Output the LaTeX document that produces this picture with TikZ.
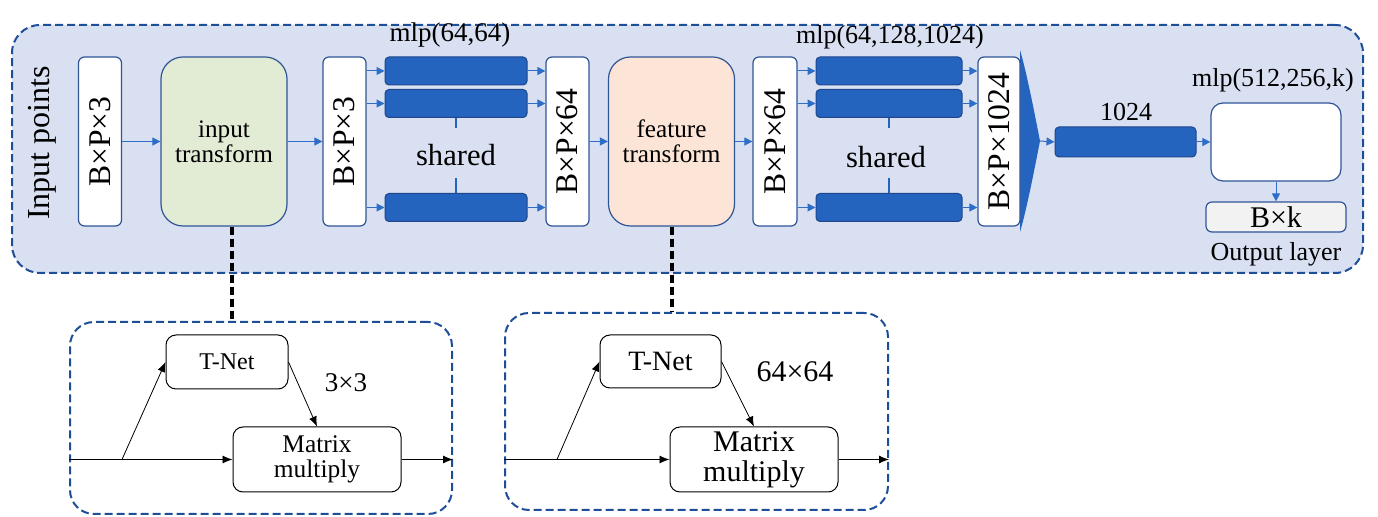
\documentclass[tikz,border=0pt]{standalone}
\usepackage{fontspec}
\setmainfont{Liberation Serif}
\newfontfamily\tnr{Liberation Serif}
\usetikzlibrary{arrows.meta,calc}
\definecolor{panelfill}{RGB}{217,224,241}
\definecolor{paneledge}{RGB}{31,78,152}
\definecolor{boxedge}{RGB}{47,85,151}
\definecolor{barfill}{RGB}{37,100,190}
\definecolor{baredge}{RGB}{30,70,140}
\definecolor{arrblue}{RGB}{46,110,200}
\definecolor{greenfill}{RGB}{226,235,212}
\definecolor{peachfill}{RGB}{252,228,214}
\definecolor{grayfill}{RGB}{242,242,242}
\def\fs#1{\tnr\fontsize{#1}{#1}\selectfont}
\tikzset{
  dimbox/.style={draw=boxedge, line width=0.6pt, fill=white, rounded corners=3pt, minimum width=21.5pt, minimum height=84.5pt, inner sep=0pt},
  transbox/.style={draw=boxedge, line width=0.6pt, rounded corners=11pt, minimum width=63pt, minimum height=84.5pt, align=center, font=\fs{12.6}},
  bar/.style={draw=baredge, line width=0.5pt, fill=barfill, rounded corners=2pt, minimum width=71pt, minimum height=14pt, inner sep=0pt},
  arr/.style={draw=arrblue, line width=0.5pt, -{Triangle[length=4pt,width=4pt]}},
  tick/.style={draw=barfill, line width=1.4pt},
  panel/.style={draw=paneledge, line width=1pt, dash pattern=on 4pt off 2pt, rounded corners=14pt},
  link/.style={draw=black, line width=2pt, dash pattern=on 4pt off 2pt},
  netbox/.style={draw=black, line width=0.5pt, fill=white, rounded corners=5pt, inner sep=0pt, align=center},
  blk/.style={draw=black, line width=0.4pt, -{Latex[length=5pt,width=4pt]}},
  lbl/.style={inner sep=0pt, font=\fs{13}}
}
\begin{document}
\begin{tikzpicture}[x=0.5pt,y=-0.5pt]
		%%%%% START %%%%%
		\useasboundingbox (0,0) rectangle (1378,517);
		
		% main panel
		\node[panel, fill=panelfill, minimum width=675.5pt, minimum height=124pt] (panel) at (687.5,149) {};
		\node[lbl, font=\fs{16}, rotate=90] (inpts) at (42,143) {Input points};
		
		\node[dimbox] (in3) at (100,141.5) {\rotatebox{90}{\fs{15.8}B×P×3}};
		\node[transbox, fill=greenfill] (itrans) at (224,141.5) {input\\transform};
		\node[dimbox] (d3) at (344.5,141.5) {\rotatebox{90}{\fs{15.8}B×P×3}};
		\draw[arr] (in3) -- (itrans);
		\draw[arr] (itrans) -- (d3);
		
		% first shared mlp
		\node[bar] (ba1) at (456,71) {};
		\node[bar] (ba2) at (456,103.5) {};
		\node[bar] (ba3) at (456,207.5) {};
		\node[lbl, font=\fs{13.5}] (mlpa) at (450,35) {mlp(64,64)};
		\node[lbl, font=\fs{15.3}] (sha) at (456,155) {shared};
		\draw[tick] (ba2.south) -- ++(0,10);
		\draw[tick] (ba3.north) -- ++(0,-15);
		
		\node[dimbox] (d64a) at (567.5,141.5) {\rotatebox{90}{\fs{15.8}B×P×64}};
		\foreach \b in {ba1,ba2,ba3}{
			\draw[arr] (d3.east |- \b) -- (\b.west);
			\draw[arr] (\b.east) -- (\b -| d64a.west);
		}
		
		\node[transbox, fill=peachfill] (ftrans) at (671.5,141.5) {feature\\transform};
		\node[dimbox, minimum width=22pt] (d64b) at (775,141.5) {\rotatebox{90}{\fs{15.8}B×P×64}};
		\draw[arr] (d64a) -- (ftrans);
		\draw[arr] (ftrans) -- (d64b);
		
		% second shared mlp
		\node[bar, minimum width=73pt] (bb1) at (889,71) {};
		\node[bar, minimum width=73pt] (bb2) at (889,103.5) {};
		\node[bar, minimum width=73pt] (bb3) at (889,207.5) {};
		\node[lbl] (mlpb) at (890,37) {mlp(64,128,1024)};
		\node[lbl, font=\fs{15.3}] (shb) at (886,157) {shared};
		\draw[tick] (bb2.south) -- ++(0,10);
		\draw[tick] (bb3.north) -- ++(0,-15);
		
		% max pool
		\coordinate (pooltip) at (1040,141);
		\fill[barfill] (1020,50) .. controls (1026,70) and (1034,110) .. (pooltip) .. controls (1034,172) and (1026,212) .. (1020,232) -- cycle;
		\node[dimbox, minimum width=21pt] (d1024) at (999,141.5) {\rotatebox{90}{\fs{15.8}B×P×1024}};
		\foreach \b in {bb1,bb2,bb3}{
			\draw[arr] (d64b.east |- \b) -- (\b.west);
			\draw[arr] (\b.east) -- (\b -| d1024.west);
		}
		
		% global feature and output
		\node[bar, minimum width=70.5pt, minimum height=15pt] (gf) at (1125.5,142) {};
		\node[lbl] (gflbl) at (1126,112) {1024};
		\draw[arr] (pooltip) -- (gf.west);
		\node[draw=boxedge, line width=0.6pt, fill=white, rounded corners=6pt, minimum width=65pt, minimum height=39pt] (mlpc) at (1276,142) {};
		\node[lbl] (mlpclbl) at (1273,80) {mlp(512,256,k)};
		\draw[arr] (gf) -- (mlpc);
		\node[draw=boxedge, line width=0.6pt, fill=grayfill, rounded corners=3pt, minimum width=70pt, minimum height=15pt, inner sep=0pt, font=\fs{15}] (outk) at (1276,217) {B×k};
		\draw[arr] (mlpc) -- (outk);
		\node[lbl] (outlbl) at (1276,254) {Output layer};
		
		% lower boxes
		\node[panel, minimum width=191pt, minimum height=96pt, rounded corners=12pt] (tbox1) at (261,418) {};
		\node[panel, minimum width=191.5pt, minimum height=98.5pt, rounded corners=12pt] (tbox2) at (696.5,411.5) {};
		\draw[link] ([xshift=4pt]itrans.south) -- ([xshift=4pt]itrans.south |- tbox1.north);
		\draw[link] (ftrans.south) -- (ftrans.south |- tbox2.north);
		
		% input transform detail
		\node[netbox, minimum width=61pt, minimum height=27pt, font=\fs{12}] (tnet1) at (227,362) {T-Net};
		\node[netbox, minimum width=84pt, minimum height=32.5pt, font=\fs{12.7}] (mat1) at (317,459.5) {Matrix\\multiply};
		\node[lbl, font=\fs{13.5}] (k1) at (346,383) {3×3};
		\coordinate (br1) at (122,459.5);
		\draw[blk] (mat1.west -| tbox1.west) -- (mat1.west);
		\draw[blk] (br1) -- (tnet1.west);
		\draw[blk] (tnet1.east) -- (mat1.north);
		\draw[blk] (mat1.east) -- (mat1.east -| tbox1.east);
		
		% feature transform detail
		\node[netbox, minimum width=60.5pt, minimum height=26.5pt, font=\fs{14}] (tnet2) at (660.5,361.5) {T-Net};
		\node[netbox, minimum width=84pt, minimum height=32.5pt, font=\fs{15}] (mat2) at (754,459.5) {Matrix\\multiply};
		\node[lbl, font=\fs{15}] (k2) at (795,372) {64×64};
		\coordinate (br2) at (557,459.5);
		\draw[blk] (mat2.west -| tbox2.west) -- (mat2.west);
		\draw[blk] (br2) -- (tnet2.west);
		\draw[blk] (tnet2.east) -- (mat2.north);
		\draw[blk] (mat2.east) -- (mat2.east -| tbox2.east);
		
		%%%%% END %%%%%
\end{tikzpicture}
\end{document}
